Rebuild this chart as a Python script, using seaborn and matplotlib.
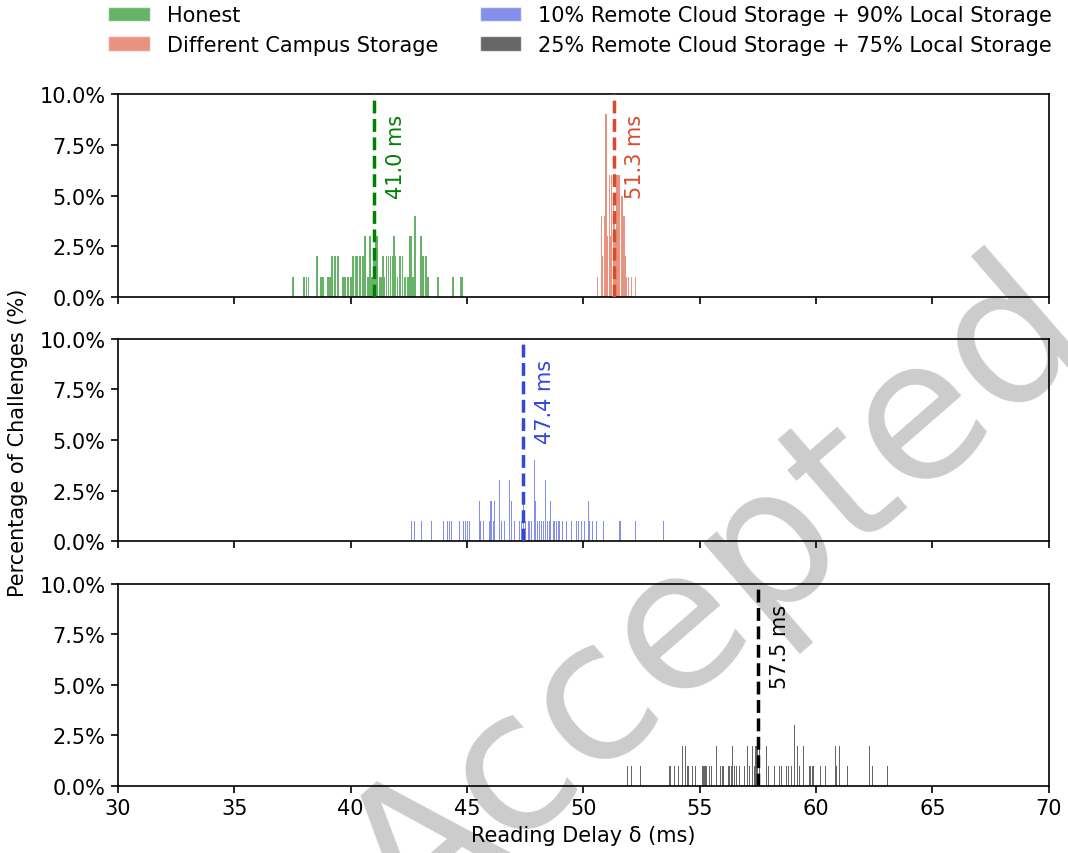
import numpy as np
import pandas as pd
import matplotlib
matplotlib.use("Agg")
import matplotlib.pyplot as plt
import matplotlib.ticker as mticker
from matplotlib.patches import Patch
import seaborn as sns

# Reading delay (ms) of each histogram bin and share of challenges (%) in it
honest_delay = [37.53, 38.00, 38.13, 38.18, 38.54, 38.72, 38.82, 39.03, 39.10, 39.18,
                39.32, 39.46, 39.68, 39.75, 39.89, 40.03, 40.10, 40.25, 40.39, 40.53,
                40.60, 40.75, 40.83, 40.90, 41.01, 41.11, 41.28, 41.37, 41.47, 41.52,
                41.65, 41.71, 41.78, 41.87, 41.94, 42.00, 42.14, 42.21, 42.33, 42.47,
                42.57, 42.66, 42.76, 43.04, 43.11, 43.23, 43.33, 43.76, 44.38, 44.76]
honest_pct = [1, 1, 1, 1, 2, 1, 1, 1, 1, 2,
              2, 2, 1, 1, 1, 1, 2, 2, 2, 2,
              3, 1, 3, 1, 2, 3, 1, 2, 1, 2,
              2, 2, 2, 3, 2, 1, 2, 2, 1, 1,
              3, 1, 4, 3, 2, 2, 1, 1, 1, 1]

campus_delay = [50.62, 50.77, 50.82, 50.91, 50.97, 51.05, 51.11, 51.17, 51.22, 51.28,
                51.34, 51.39, 51.45, 51.51, 51.57, 51.62, 51.68, 51.74, 51.80, 51.85,
                51.94, 52.08, 52.25]
campus_pct = [1, 4, 2, 4, 9, 3, 6, 3, 6, 5,
              4, 3, 6, 6, 6, 5, 5, 4, 2, 1,
              1, 1, 1]

cloud10_delay = [42.62, 42.73, 43.05, 43.48, 43.98, 44.16, 44.23, 44.34, 44.66, 44.83,
                 44.93, 45.02, 45.09, 45.52, 45.59, 45.69, 45.95, 46.03, 46.12, 46.20,
                 46.38, 46.48, 46.62, 46.81, 46.91, 47.02, 47.27, 47.34, 47.44, 47.53,
                 47.63, 47.70, 47.77, 47.88, 47.96, 48.01, 48.10, 48.20, 48.27, 48.39,
                 48.44, 48.53, 48.60, 48.70, 48.77, 48.84, 48.92, 48.96, 49.10, 49.27,
                 49.49, 49.70, 49.77, 49.92, 50.06, 50.21, 50.28, 50.38, 50.56, 50.85,
                 51.57, 51.61, 52.23, 53.43]
cloud10_pct = [1, 1, 1, 1, 1, 1, 1, 1, 1, 1,
               1, 1, 1, 2, 1, 1, 1, 2, 1, 2,
               3, 1, 1, 3, 2, 1, 1, 1, 2, 1,
               1, 1, 1, 4, 2, 1, 1, 1, 1, 3,
               1, 1, 2, 1, 1, 1, 1, 1, 1, 1,
               1, 1, 1, 1, 1, 2, 1, 1, 1, 1,
               1, 1, 1, 1]

cloud25_delay = [51.88, 52.05, 52.45, 53.68, 53.74, 53.93, 54.07, 54.26, 54.40, 54.46,
                 54.50, 54.69, 54.83, 55.12, 55.17, 55.21, 55.26, 55.31, 55.40, 55.50,
                 55.74, 55.89, 56.00, 56.22, 56.29, 56.36, 56.40, 56.50, 56.60, 56.71,
                 56.94, 57.07, 57.15, 57.26, 57.36, 57.41, 57.46, 57.55, 57.87, 57.94,
                 58.20, 58.44, 58.51, 58.73, 58.80, 58.94, 59.01, 59.05, 59.22, 59.30,
                 59.44, 59.70, 59.77, 59.84, 59.90, 59.99, 60.01, 60.20, 60.39, 60.83,
                 60.87, 60.99, 61.37, 62.31, 62.42, 63.06]
cloud25_pct = [1, 1, 1, 1, 1, 1, 1, 2, 2, 1,
               1, 1, 1, 1, 1, 1, 1, 1, 1, 1,
               2, 1, 1, 1, 1, 1, 2, 1, 1, 1,
               1, 2, 1, 2, 1, 2, 2, 2, 2, 1,
               1, 1, 1, 1, 1, 1, 1, 3, 2, 1,
               2, 1, 1, 1, 1, 1, 2, 1, 1, 2,
               1, 2, 1, 2, 1, 1]

# Mean reading delay of each scenario (ms)
mean_delay = {"Honest": 41.0, "Different Campus Storage": 51.3,
              "10% Remote Cloud Storage + 90% Local Storage": 47.4,
              "25% Remote Cloud Storage + 75% Local Storage": 57.5}

series = [
    ("Honest", honest_delay, honest_pct, "#008000", 0.09, 0),
    ("Different Campus Storage", campus_delay, campus_pct, "#DC4A2C", 0.055, 0),
    ("10% Remote Cloud Storage + 90% Local Storage", cloud10_delay, cloud10_pct, "#3446DC", 0.045, 1),
    ("25% Remote Cloud Storage + 75% Local Storage", cloud25_delay, cloud25_pct, "#000000", 0.045, 2),
]

x_ticks = [30, 35, 40, 45, 50, 55, 60, 65, 70]
y_ticks = [0, 2.5, 5.0, 7.5, 10.0]

FS = 15
sns.set_style("ticks")
plt.rcParams["font.family"] = ["DejaVu Sans"]
plt.rcParams.update({
    "font.size": FS,
    "text.color": "black",
    "axes.labelcolor": "black",
    "xtick.color": "black",
    "ytick.color": "black",
    "axes.edgecolor": "black",
})

fig = plt.figure(figsize=(10.68, 8.54), dpi=100)
fig.patch.set_facecolor("white")
left, width = 0.1105, 0.8715
rows = [(0.651, 0.2378), (0.3653, 0.2366), (0.0785, 0.2365)]
axes = []
for i, (b, h) in enumerate(rows):
    ax = fig.add_axes([left, b, width, h], sharex=axes[0] if axes else None)
    ax.set_facecolor("none")
    axes.append(ax)

handles = []
for name, delay, pct, color, bw, row in series:
    ax = axes[row]
    d = np.asarray(delay)
    edges = np.unique(np.concatenate([d - bw / 2, d + bw / 2])).tolist()
    df = pd.DataFrame({"delay": d, "pct": pct})
    sns.histplot(data=df, x="delay", weights="pct", bins=edges, ax=ax,
                 color=color, alpha=0.6, linewidth=0, element="bars")
    m = mean_delay[name]
    ax.axvline(m, color=color, linestyle="--", linewidth=2.5, zorder=4)
    ax.text(m + 0.5, 9.0, f"{m:.1f} ms", rotation=90, ha="left", va="top",
            color=color, fontsize=FS)
    handles.append(Patch(facecolor=color, alpha=0.6, label=name))

for i, ax in enumerate(axes):
    ax.set_xlim(30, 70)
    ax.set_ylim(0, 10)
    ax.set_xticks(x_ticks)
    ax.set_yticks(y_ticks)
    ax.yaxis.set_major_formatter(mticker.PercentFormatter(decimals=1))
    ax.set_ylabel("")
    ax.set_xlabel("")
    for s in ax.spines.values():
        s.set_visible(True)
        s.set_linewidth(1.2)
        s.set_color("black")
    ax.tick_params(axis="both", labelsize=FS, length=5, width=1.2, color="black",
                   pad=4)
    if i < 2:
        ax.tick_params(labelbottom=False)

axes[2].set_xlabel("Reading Delay δ (ms)", fontsize=FS, labelpad=5)
fig.text(0.017, 0.482, "Percentage of Challenges (%)", rotation=90,
         ha="center", va="center", fontsize=FS)

fig.legend(handles=handles, ncol=2, loc="upper left",
           bbox_to_anchor=(100 / 1068, 1.0 + 2 / 854), borderaxespad=0,
           frameon=False, fontsize=FS, columnspacing=2.0, handlelength=2.0,
           handleheight=0.7, handletextpad=0.8, labelspacing=0.45)

# Watermark stamped beneath the panels
fig.text(0.672, 0.298, "Accepted", rotation=41, ha="center", va="center",
         fontsize=140, color="#cccccc", zorder=-1)

fig.savefig("out.png", dpi=100)
